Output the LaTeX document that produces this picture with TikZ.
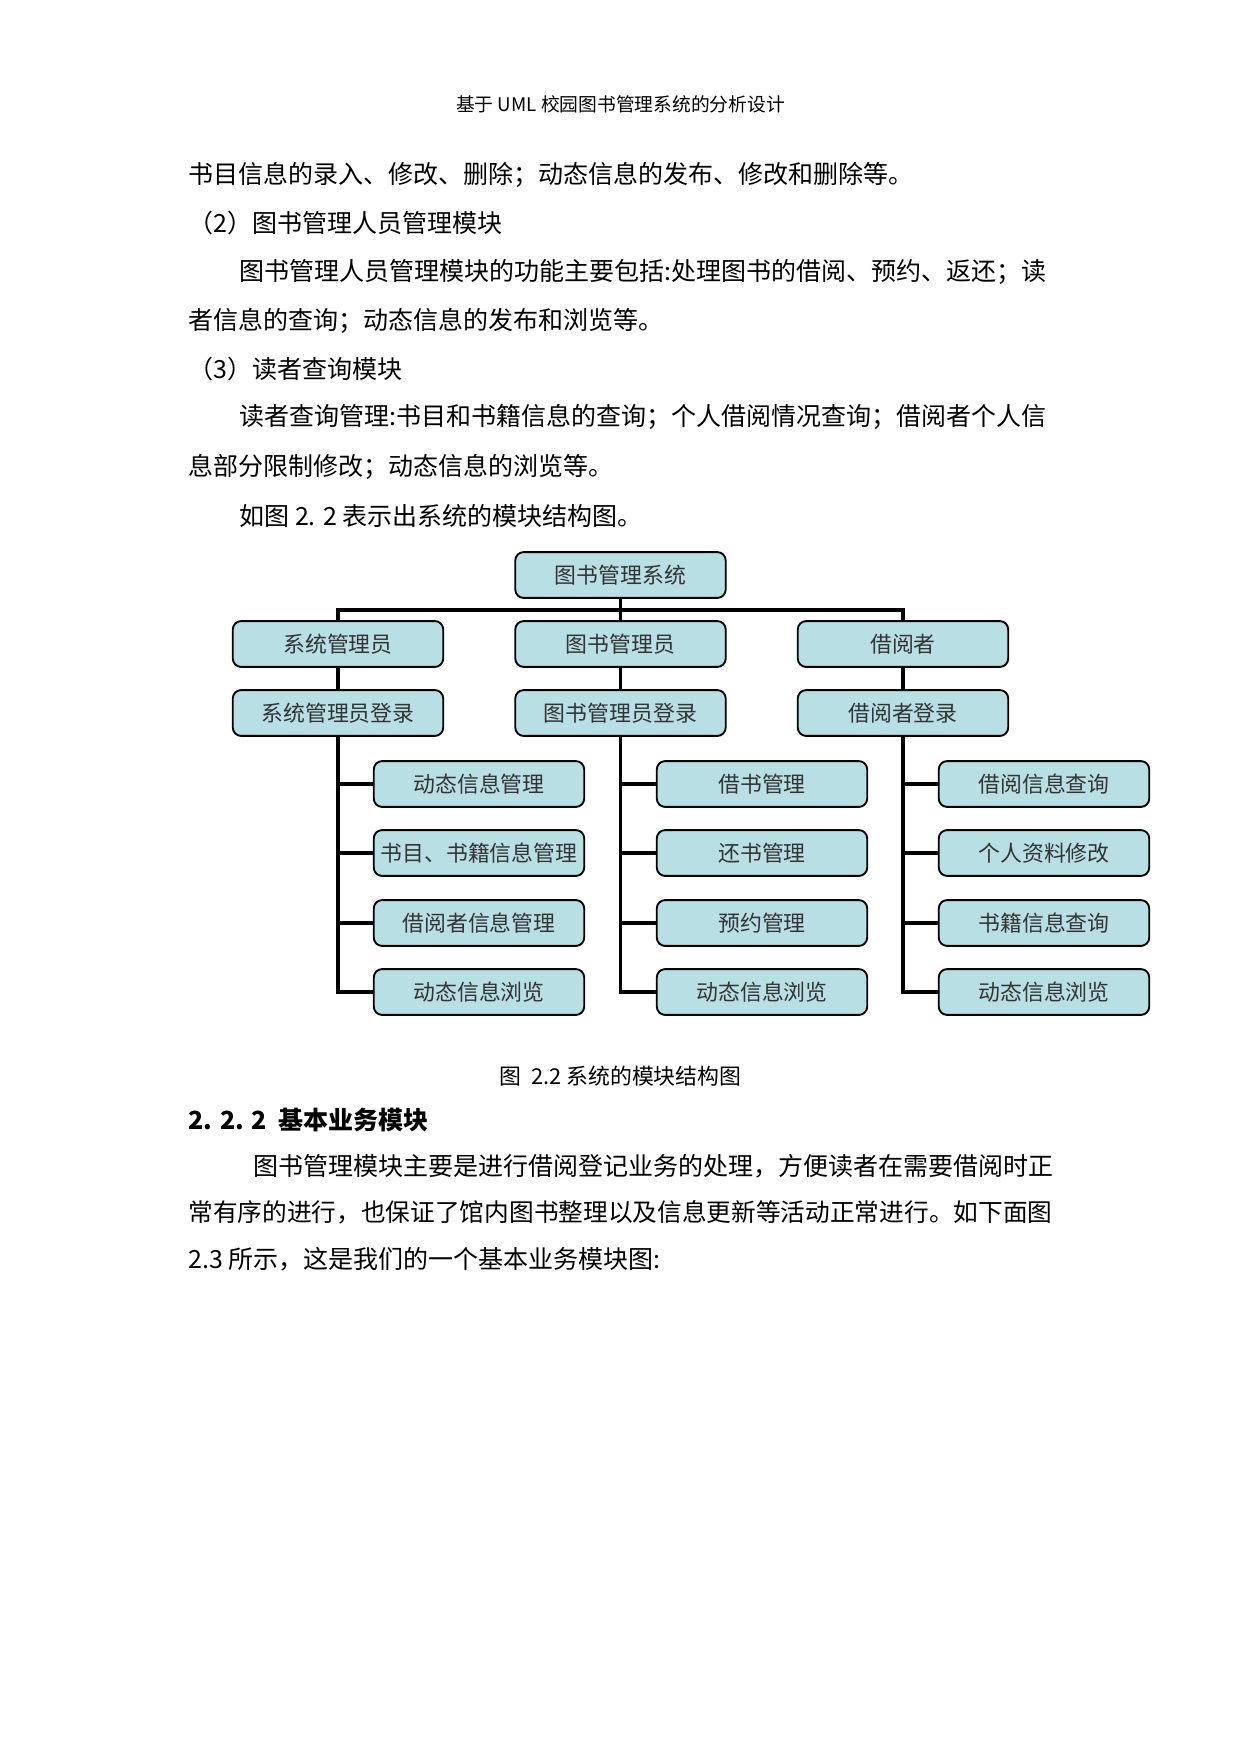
\documentclass[tikz,border=0pt]{standalone}
\usepackage{fontspec}
\setmainfont{Noto Sans CJK SC}
\usepackage{tikz}
\usepackage{xcolor}
\definecolor{boxblue}{RGB}{184,223,227}

\begin{document}
\begin{tikzpicture}[x=0.48pt, y=-0.48pt,
    box/.style={draw, rounded corners=4pt, fill=boxblue, line width=0.9pt, minimum width=101pt, minimum height=22pt, inner sep=0pt, text=black!80, font=\fontsize{10.5pt}{12pt}\selectfont},
    conn/.style={line width=1.9pt},
    body/.style={anchor=west, inner sep=0pt, font=\fontsize{12pt}{14pt}\selectfont}]
    \fill[white] (0,0) rectangle (1241,1754);
    \useasboundingbox (0,0) rectangle (1241,1754);

    % page text above the chart
    \node[inner sep=0pt, font=\fontsize{9pt}{10pt}\selectfont] (head) at (620.5,104) {基于 UML 校园图书管理系统的分析设计};
    \node[body] (l1) at (188,175) {书目信息的录入、修改、删除；动态信息的发布、修改和删除等。};
    \node[body] (l2) at (188,223) {（2）图书管理人员管理模块};
    \node[body] (l3) at (239,272) {图书管理人员管理模块的功能主要包括:处理图书的借阅、预约、返还；读};
    \node[body] (l4) at (188,321) {者信息的查询；动态信息的发布和浏览等。};
    \node[body] (l5) at (188,369) {（3）读者查询模块};
    \node[body] (l6) at (239,417) {读者查询管理:书目和书籍信息的查询；个人借阅情况查询；借阅者个人信};
    \node[body] (l7) at (188,467) {息部分限制修改；动态信息的浏览等。};
    \node[body] (l8) at (239,516) {如图 2. 2 表示出系统的模块结构图。};

    % chart
    \node[box] (sys) at (620.5,575) {图书管理系统};
    \node[box] (adm) at (338,644) {系统管理员};
    \node[box] (lib) at (620.5,644) {图书管理员};
    \node[box] (rdr) at (903,644) {借阅者};
    \node[box] (admlog) at (338,713) {系统管理员登录};
    \node[box] (liblog) at (620.5,713) {图书管理员登录};
    \node[box] (rdrlog) at (903,713) {借阅者登录};

    \node[box] (a1) at (479,784) {动态信息管理};
    \node[box] (a2) at (479,853) {书目、书籍信息管理};
    \node[box] (a3) at (479,923) {借阅者信息管理};
    \node[box] (a4) at (479,992) {动态信息浏览};
    \node[box] (b1) at (762,784) {借书管理};
    \node[box] (b2) at (762,853) {还书管理};
    \node[box] (b3) at (762,923) {预约管理};
    \node[box] (b4) at (762,992) {动态信息浏览};
    \node[box] (c1) at (1044,784) {借阅信息查询};
    \node[box] (c2) at (1044,853) {个人资料修改};
    \node[box] (c3) at (1044,923) {书籍信息查询};
    \node[box] (c4) at (1044,992) {动态信息浏览};

    \coordinate (bar) at (620.5,610);
    \draw[conn] (sys.south) -- (lib.north);
    \draw[conn] (adm.north) -- (adm.north |- bar) -- (rdr.north |- bar) -- (rdr.north);
    \draw[conn] (adm) -- (admlog);
    \draw[conn] (lib) -- (liblog);
    \draw[conn] (rdr) -- (rdrlog);

    \draw[conn] (admlog.south) |- (a4.west);
    \draw[conn] (liblog.south) |- (b4.west);
    \draw[conn] (rdrlog.south) |- (c4.west);
    \foreach \k in {1,2,3} {
        \draw[conn] (a\k.west) -- (a\k.west -| admlog.south);
        \draw[conn] (b\k.west) -- (b\k.west -| liblog.south);
        \draw[conn] (c\k.west) -- (c\k.west -| rdrlog.south);
    }

    % page text below the chart
    \node[inner sep=0pt, font=\fontsize{10.5pt}{12pt}\selectfont] (cap) at (620.5,1076) {图\ \ 2.2 系统的模块结构图};
    \node[body, font=\fontsize{12pt}{14pt}\selectfont\bfseries] (sec) at (188,1120) {2. 2. 2\ \ 基本业务模块};
    \node[body] (p1) at (253,1166) {图书管理模块主要是进行借阅登记业务的处理，方便读者在需要借阅时正};
    \node[body, font=\fontsize{11.85pt}{14pt}\selectfont] (p2) at (188,1212) {常有序的进行，也保证了馆内图书整理以及信息更新等活动正常进行。如下面图};
    \node[body] (p3) at (188,1259) {2.3 所示，这是我们的一个基本业务模块图:};
\end{tikzpicture}
\end{document}
